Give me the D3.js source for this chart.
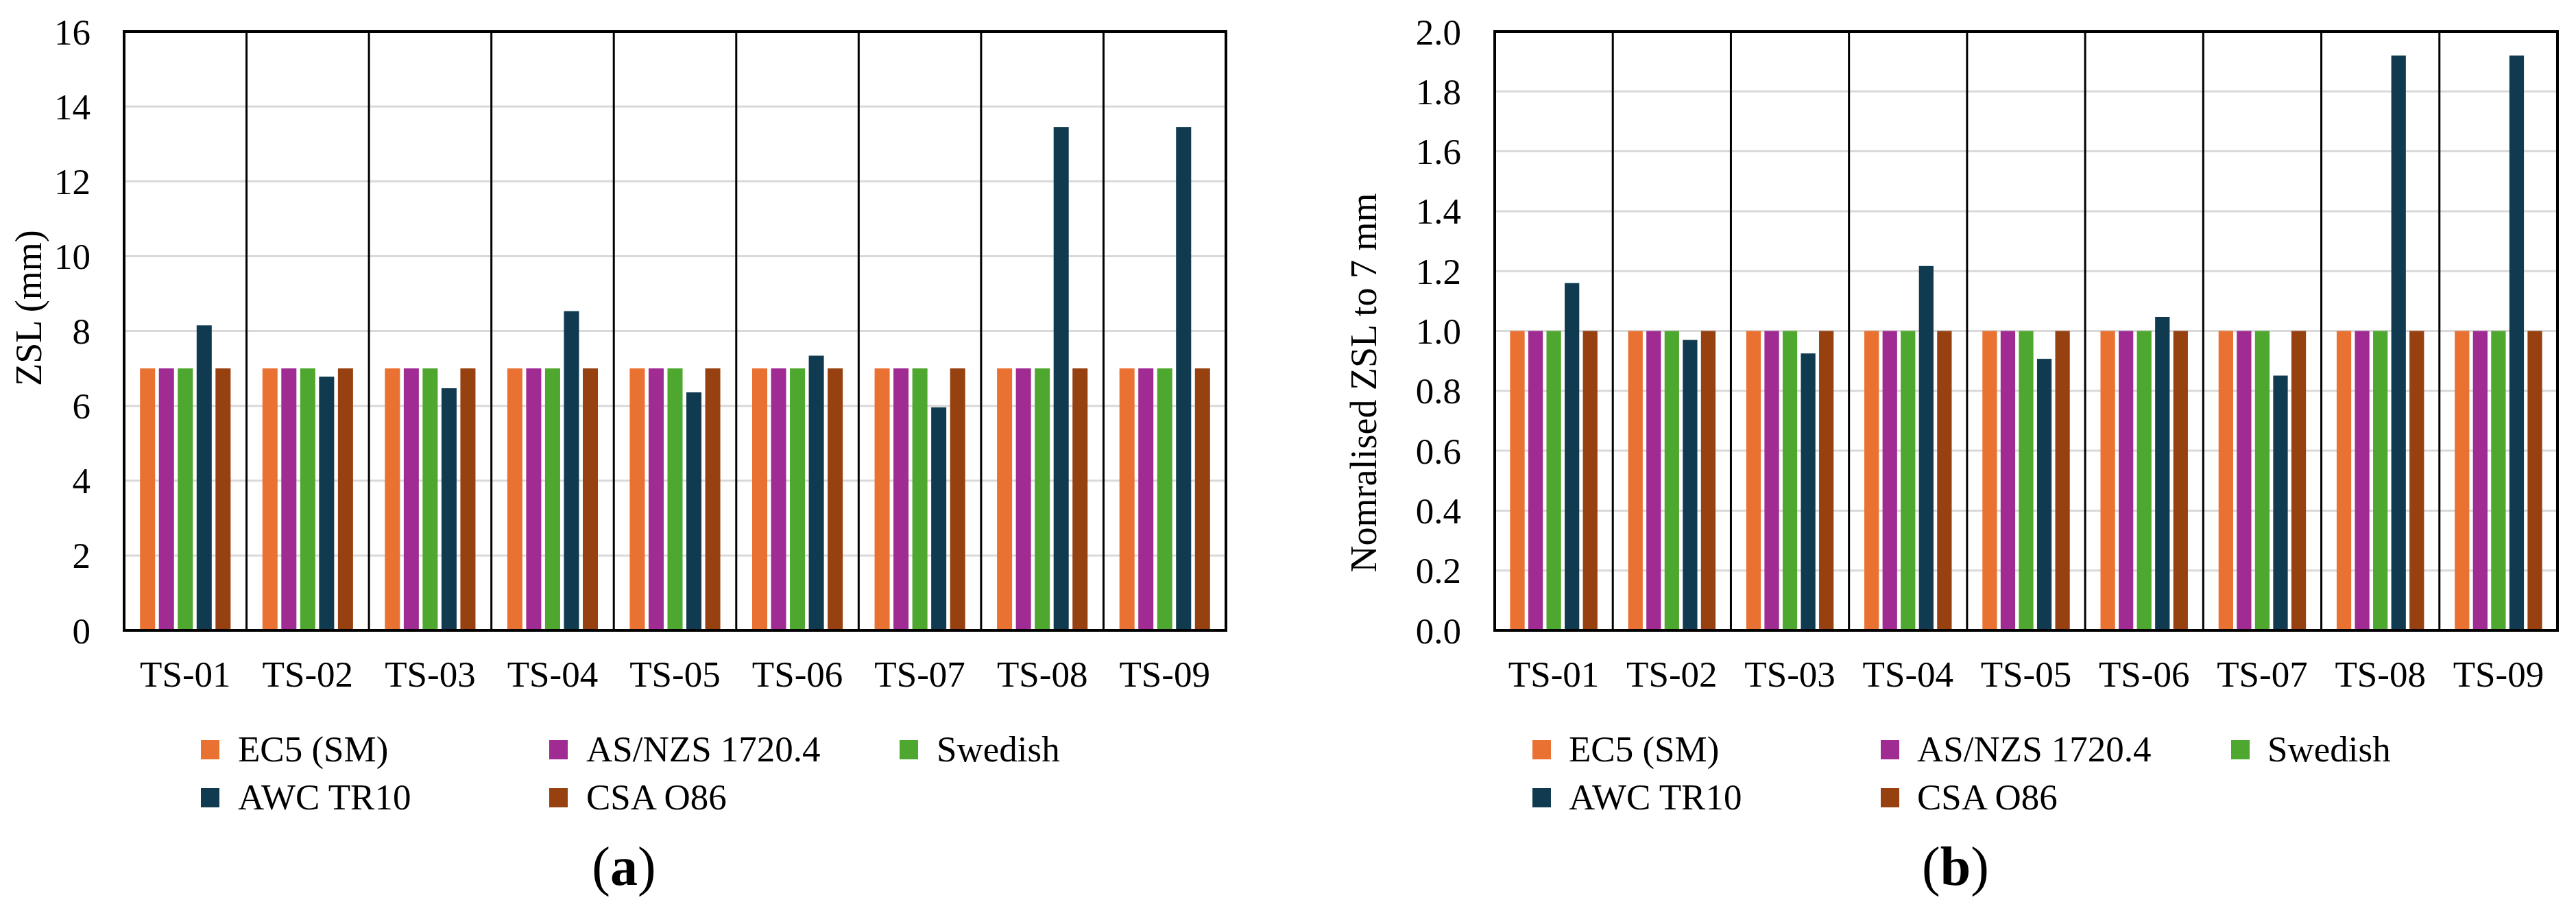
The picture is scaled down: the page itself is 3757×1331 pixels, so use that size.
<!DOCTYPE html>
<html>
<head>
<meta charset="utf-8">
<script src="https://cdn.jsdelivr.net/npm/d3@7/dist/d3.min.js"></script>
<style>
  html, body { margin: 0; padding: 0; background: #fff; }
  svg { display: block; }
  svg text { font-family: 'Liberation Serif', 'Times New Roman', serif !important; fill: #000; }
</style>
</head>
<body>
<svg id="chart" width="3757" height="1331"></svg>
<script>
// ---------- data ----------
const categories = ["TS-01", "TS-02", "TS-03", "TS-04", "TS-05", "TS-06", "TS-07", "TS-08", "TS-09"];
const seriesNames = ["EC5 (SM)", "AS/NZS 1720.4", "Swedish", "AWC TR10", "CSA O86"];
const seriesColors = ["#E97132", "#A02B93", "#4EA72E", "#0F3A4F", "#974111"];

// (a) ZSL (mm)
const zslEC5     = [7, 7, 7, 7, 7, 7, 7, 7, 7];
const zslASNZS   = [7, 7, 7, 7, 7, 7, 7, 7, 7];
const zslSwedish = [7, 7, 7, 7, 7, 7, 7, 7, 7];
const zslAWC     = [8.15, 6.78, 6.47, 8.53, 6.36, 7.34, 5.96, 13.45, 13.45];
const zslCSA     = [7, 7, 7, 7, 7, 7, 7, 7, 7];
const zslTicks   = [0, 2, 4, 6, 8, 10, 12, 14, 16];

// (b) Normalised ZSL to 7 mm
const normEC5     = [1, 1, 1, 1, 1, 1, 1, 1, 1];
const normASNZS   = [1, 1, 1, 1, 1, 1, 1, 1, 1];
const normSwedish = [1, 1, 1, 1, 1, 1, 1, 1, 1];
const normAWC     = [1.16, 0.97, 0.925, 1.217, 0.907, 1.047, 0.851, 1.92, 1.92];
const normCSA     = [1, 1, 1, 1, 1, 1, 1, 1, 1];
const normTicks   = [0, 0.2, 0.4, 0.6, 0.8, 1.0, 1.2, 1.4, 1.6, 1.8, 2.0];

const svg = d3.select("#chart");
const FONT = 53;
const SERIF = "'Liberation Serif', 'Times New Roman', serif";

function drawChart(cfg) {
  const g = svg.append("g").attr("font-family", SERIF);
  const x0 = d3.scaleBand().domain(categories).range([cfg.left, cfg.right])
    .paddingInner(0.26).paddingOuter(0.13);
  const x1 = d3.scaleBand().domain(seriesNames).range([0, x0.bandwidth()])
    .paddingInner(0.2).paddingOuter(0);
  const y = d3.scaleLinear().domain(cfg.domain).range([cfg.bottom, cfg.top]);

  // gridlines
  g.append("g").selectAll("line").data(cfg.ticks.slice(1, -1)).join("line")
    .attr("x1", cfg.left).attr("x2", cfg.right)
    .attr("y1", d => y(d)).attr("y2", d => y(d))
    .attr("stroke", "#d9d9d9").attr("stroke-width", 3);

  // bars
  const rows = categories.map((c, i) => ({ cat: c, vals: cfg.series.map((s, k) => ({ name: seriesNames[k], v: s[i], k })) }));
  g.append("g").selectAll("g").data(rows).join("g")
    .attr("transform", d => `translate(${x0(d.cat)},0)`)
    .selectAll("rect").data(d => d.vals).join("rect")
    .attr("x", d => x1(d.name)).attr("width", x1.bandwidth())
    .attr("y", d => y(d.v)).attr("height", d => y(0) - y(d.v))
    .attr("fill", d => seriesColors[d.k]);

  // vertical dividers between categories
  const step = x0.step();
  const divs = d3.range(1, categories.length).map(i => cfg.left + i * step);
  g.append("g").selectAll("line").data(divs).join("line")
    .attr("x1", d => d).attr("x2", d => d)
    .attr("y1", cfg.top).attr("y2", cfg.bottom)
    .attr("stroke", "#000").attr("stroke-width", 3);

  // frame
  g.append("rect")
    .attr("x", cfg.left).attr("y", cfg.top)
    .attr("width", cfg.right - cfg.left).attr("height", cfg.bottom - cfg.top)
    .attr("fill", "none").attr("stroke", "#000").attr("stroke-width", 4);

  // y axis
  const ya = g.append("g").attr("transform", `translate(${cfg.left},0)`)
    .call(d3.axisLeft(y).tickValues(cfg.ticks).tickFormat(cfg.fmt).tickSize(0).tickPadding(49));
  ya.attr("font-family", SERIF).attr("font-size", FONT);
  ya.select(".domain").remove();
  ya.selectAll("text").attr("dy", "0.34em");

  // x axis
  const xa = g.append("g").attr("transform", `translate(0,${cfg.bottom})`)
    .call(d3.axisBottom(x0).tickSize(0).tickPadding(44));
  xa.attr("font-family", SERIF).attr("font-size", FONT);
  xa.select(".domain").remove();

  // y title
  g.append("text")
    .attr("transform", `translate(${cfg.titleX},${cfg.titleY}) rotate(-90)`)
    .attr("text-anchor", "middle")
    .attr("font-size", 54)
    .text(cfg.title);

  // legend
  const legend = g.append("g").attr("font-size", FONT);
  seriesNames.forEach((name, k) => {
    const col = k % 3, row = Math.floor(k / 3);
    const lx = cfg.legX[col], ly = cfg.legY[row];
    legend.append("rect").attr("x", lx).attr("y", ly - 14).attr("width", 27).attr("height", 28)
      .attr("fill", seriesColors[k]);
    legend.append("text").attr("x", lx + cfg.legTextDx).attr("y", ly + 17).text(name);
  });

  // caption
  const cap = g.append("text").attr("x", cfg.capX).attr("y", 1290).attr("text-anchor", "middle")
    .attr("font-size", 80);
  cap.append("tspan").text("(");
  cap.append("tspan").attr("font-weight", "bold").text(cfg.capLetter);
  cap.append("tspan").text(")");
}

drawChart({
  left: 181, right: 1788, top: 46, bottom: 919,
  domain: [0, 16], ticks: zslTicks, fmt: d3.format("d"),
  series: [zslEC5, zslASNZS, zslSwedish, zslAWC, zslCSA],
  title: "ZSL (mm)", titleX: 60, titleY: 449,
  legX: [293, 801, 1312], legY: [1093, 1163], legTextDx: 54,
  capX: 910, capLetter: "a"
});

drawChart({
  left: 2180, right: 3730, top: 46, bottom: 919,
  domain: [0, 2], ticks: normTicks, fmt: d3.format(".1f"),
  series: [normEC5, normASNZS, normSwedish, normAWC, normCSA],
  title: "Nomralised ZSL to 7 mm", titleX: 2007, titleY: 558,
  legX: [2235, 2743, 3254], legY: [1093, 1163], legTextDx: 53,
  capX: 2852, capLetter: "b"
});
</script>
</body>
</html>
